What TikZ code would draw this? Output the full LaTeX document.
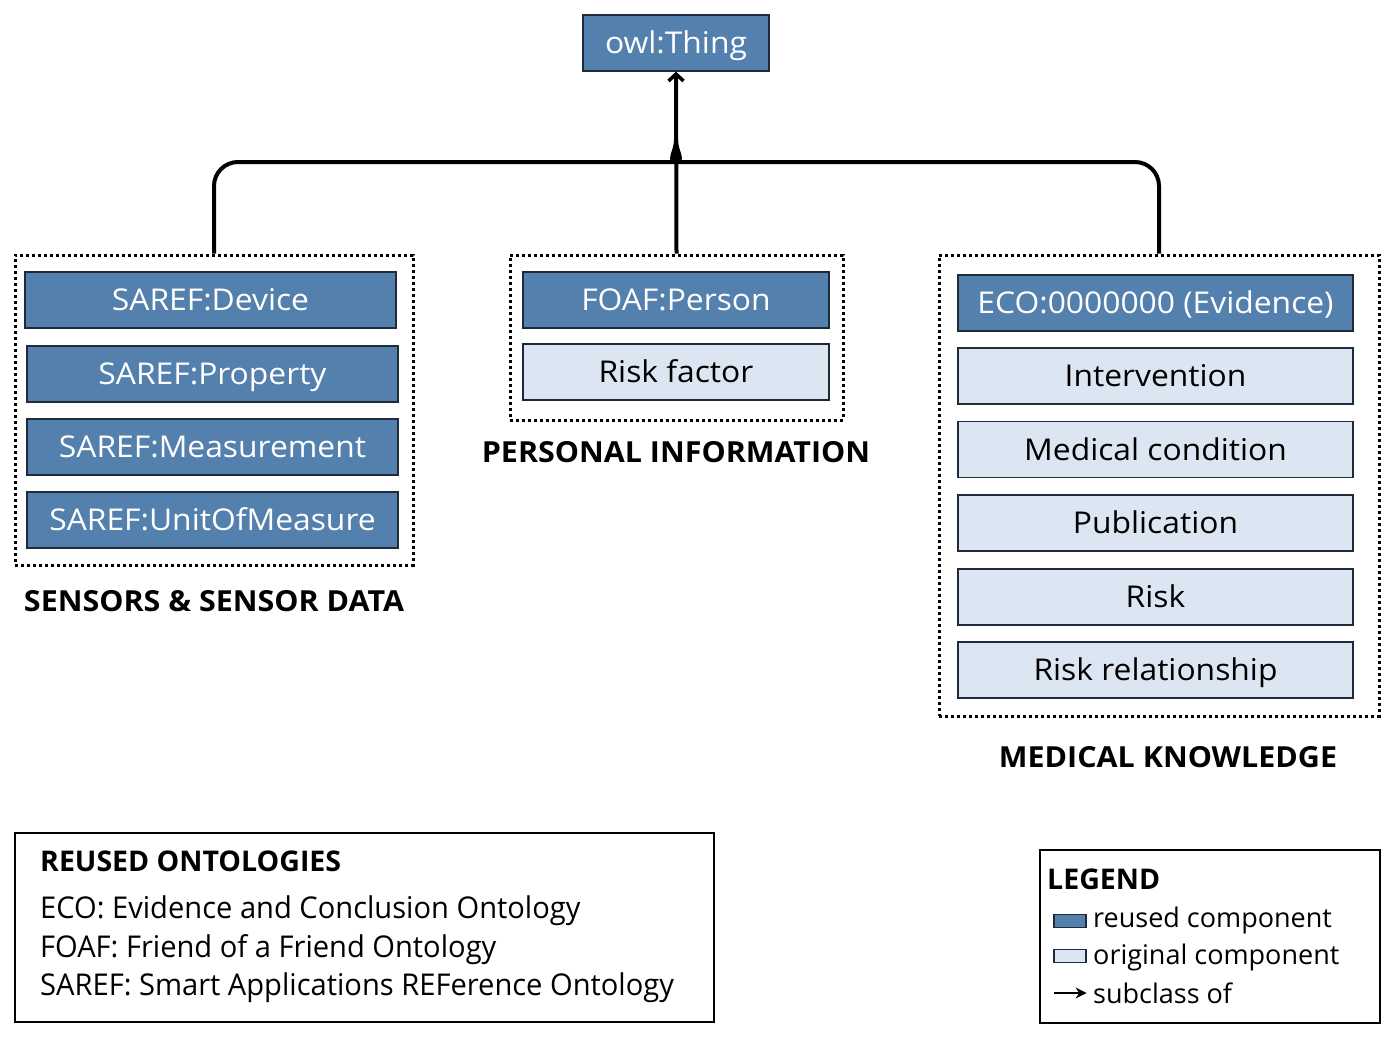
\documentclass[tikz,border=0pt]{standalone}
\usepackage{fontspec}
\setmainfont{Open Sans}
\newfontfamily\boxfont[FakeStretch=1.06]{Open Sans}
\newfontfamily\labfont[FakeStretch=1.05]{Open Sans}
\newfontfamily\condfont[FakeStretch=0.97]{Open Sans}
\usetikzlibrary{arrows.meta,calc,positioning}
\definecolor{reusedc}{HTML}{5480AE}
\definecolor{origc}{HTML}{DCE6F2}
\definecolor{edgec}{HTML}{1F2B3A}
\tikzset{
  cls/.style={draw=edgec, line width=1.2pt, minimum height=56pt, inner sep=0pt,
    font=\fontsize{30}{34}\selectfont\boxfont, text height=23pt, text depth=2pt},
  reused/.style={cls, fill=reusedc, text=white},
  orig/.style={cls, fill=origc, text=black},
  group/.style={draw=black, line width=3pt, dash pattern=on 3pt off 3pt},
  grouplabel/.style={font=\fontsize{29}{32}\selectfont\labfont\bfseries, inner sep=0pt},
  conn/.style={draw=black, line width=4pt},
  arr/.style={conn, -{Straight Barb[length=7pt,width=15pt,line width=3.5pt]}},
  plainbox/.style={draw=black, line width=2pt, inner sep=0pt},
  onttext/.style={font=\fontsize{30}{34}\selectfont\condfont, anchor=west, inner sep=0pt},
  legtext/.style={font=\fontsize{27}{30}\selectfont, anchor=west, inner sep=0pt},
  swatch/.style={draw=edgec, line width=1.2pt, minimum width=32pt, minimum height=13pt, inner sep=0pt},
}
\begin{document}
\begin{tikzpicture}[x=1pt,y=-1pt]
\useasboundingbox[fill=white] (0,0) rectangle (1400,1050);
% root
\node[reused, minimum width=186pt] (thing) at (676,43) {owl:Thing};
% group boxes
\node[group, minimum width=398pt, minimum height=310pt, inner sep=0pt] (senbox) at (214,410) {};
\node[group, minimum width=333pt, minimum height=165pt, inner sep=0pt] (perbox) at (676.5,337.5) {};
\node[group, minimum width=440pt, minimum height=461pt, inner sep=0pt] (medbox) at (1159,485.5) {};
% sensors
\node[reused, minimum width=371pt] (dev) at (210.5,300) {SAREF:Device};
\node[reused, minimum width=371pt] (prop) at (212.5,374) {SAREF:Property};
\node[reused, minimum width=371pt] (meas) at (212.5,447) {SAREF:Measurement};
\node[reused, minimum width=371pt] (unit) at (212.5,520) {SAREF:UnitOfMeasure};
\node[grouplabel] (senlab) at (214,601) {SENSORS \& SENSOR DATA};
% personal
\node[reused, minimum width=306pt] (person) at (676,300) {FOAF:Person};
\node[orig, minimum width=306pt] (riskf) at (676,372) {Risk factor};
\node[grouplabel] (perlab) at (676,452) {PERSONAL INFORMATION};
% medical
\node[reused, minimum width=395pt] (eco) at (1155.5,303) {ECO:0000000 (Evidence)};
\node[orig, minimum width=395pt] (interv) at (1155.5,376) {Intervention};
\node[orig, minimum width=395pt] (medc) at (1155.5,449.5) {Medical condition};
\node[orig, minimum width=395pt] (pub) at (1155.5,523) {Publication};
\node[orig, minimum width=395pt] (risk) at (1155.5,597) {Risk};
\node[orig, minimum width=395pt] (riskrel) at (1155.5,670) {Risk relationship};
\node[grouplabel] (medlab) at (1168,757) {MEDICAL KNOWLEDGE};
% connectors
\coordinate (jn) at (676,162);
\draw[conn] (senbox.north) [rounded corners=24pt] |- ($(jn)+(-22,0)$) [sharp corners]
  .. controls ($(jn)+(-10,0)$) and ($(jn)+(0,-10)$) .. ($(jn)+(0,-22)$);
\draw[conn] (medbox.north) [rounded corners=24pt] |- ($(jn)+(22,0)$) [sharp corners]
  .. controls ($(jn)+(10,0)$) and ($(jn)+(0,-10)$) .. ($(jn)+(0,-22)$);
\draw[arr] (perbox.north) -- (thing.south);
% reused ontologies
\node[plainbox, minimum width=699pt, minimum height=189pt] (ontbox) at (364.5,927.5) {};
\node[font=\fontsize{28.5}{32}\selectfont\bfseries, anchor=west, inner sep=0pt] (onth) at (40,861) {REUSED ONTOLOGIES};
\node[onttext] (ont1) at (40,911) {ECO: Evidence and Conclusion Ontology};
\node[onttext] (ont2) at (40,950) {FOAF: Friend of a Friend Ontology};
\node[onttext] (ont3) at (40,988) {SAREF: Smart Applications REFerence Ontology};
% legend
\node[plainbox, minimum width=340pt, minimum height=173pt] (legbox) at (1210,936.5) {};
\node[font=\fontsize{28.5}{30}\selectfont\bfseries, anchor=west, inner sep=0pt] (legh) at (1047,879) {LEGEND};
\node[swatch, fill=reusedc] (sw1) at (1070,921) {};
\node[legtext] (lt1) at (1093,920) {reused component};
\node[swatch, fill=origc] (sw2) at (1070,956) {};
\node[legtext] (lt2) at (1093,957) {original component};
\coordinate (la) at (1054,993);
\draw[draw=black, line width=2.5pt, -{Stealth[length=11pt,width=11pt]}] (la) -- (sw2.east |- la);
\node[legtext] (lt3) at (1093,993) {subclass of};
\end{tikzpicture}
\end{document}
